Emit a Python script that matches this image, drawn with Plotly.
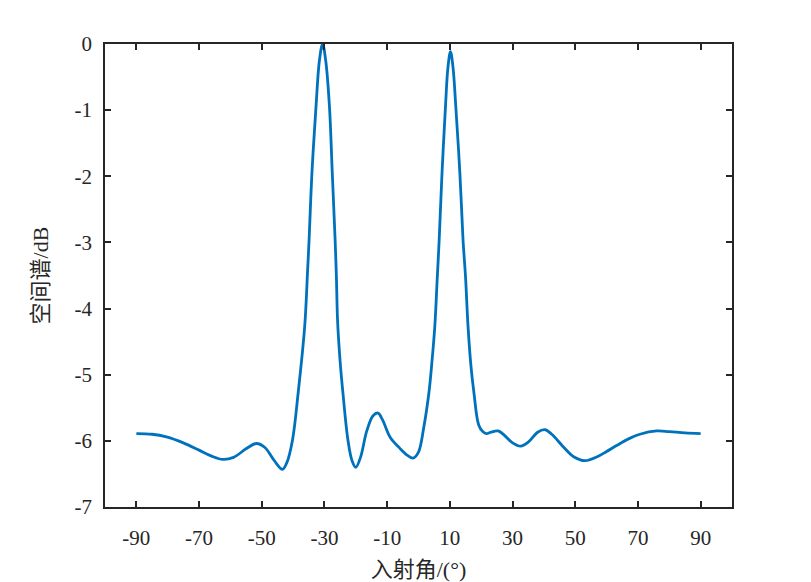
import plotly.graph_objects as go

# incident angle (deg) and spatial spectrum (dB)
angle_deg = [-90, -85, -80.4, -75, -70, -66, -62.4, -59, -55, -51.7, -49, -46, -43.4, -42, -40.2,
             -38.4, -36.3, -35.4, -34.9, -34.0, -32.7, -31.6, -30.6, -29.6, -28.4, -27.5, -26.6,
             -26.2, -25.8, -25.0, -24.1, -22.5, -21.2, -20.0, -18.5, -16.5, -14.5, -12.9, -11.5,
             -9, -6, -3.5, -1.7, 0, 1.7, 3.3, 4.3, 5.2, 6.0, 6.6, 7.5, 8.6, 9.4, 10.2, 11.0, 11.9,
             13.2, 14.2, 15.0, 15.8, 16.7, 17.7, 19.2, 20.5, 21.7, 23.0, 25.4, 27.5, 30, 32.6, 35,
             38, 40.3, 42.5, 46, 49.5, 53.1, 57, 60, 63.2, 67, 70.6, 76, 80, 85, 90]
spectrum_db = [-5.89, -5.90, -5.94, -6.03, -6.14, -6.23, -6.28, -6.25, -6.12, -6.04, -6.10, -6.30,
               -6.43, -6.33, -5.99, -5.28, -4.27, -3.45, -2.96, -1.955, -0.95, -0.25, 0.0, -0.25,
               -0.95, -1.955, -2.96, -3.5, -4.2, -4.8, -5.28, -5.99, -6.30, -6.40, -6.25, -5.85,
               -5.62, -5.58, -5.68, -5.95, -6.11, -6.22, -6.26, -6.17, -5.79, -5.28, -4.8, -4.27,
               -3.52, -2.96, -1.955, -0.95, -0.35, -0.116, -0.35, -0.95, -1.955, -2.96, -3.52,
               -4.27, -4.85, -5.28, -5.76, -5.86, -5.89, -5.87, -5.85, -5.92, -6.03, -6.08, -6.02,
               -5.87, -5.83, -5.90, -6.08, -6.24, -6.30, -6.24, -6.16, -6.07, -5.97, -5.90, -5.85,
               -5.86, -5.88, -5.89]

x_ticks = [-90, -70, -50, -30, -10, 10, 30, 50, 70, 90]
x_tick_text = ["-90", "-70", "-50", "-30", "-10", "10", "30", "50", "70", "90"]
y_ticks = [0, -1, -2, -3, -4, -5, -6, -7]
y_tick_text = ["0", "-1", "-2", "-3", "-4", "-5", "-6", "-7"]

FONT = "Liberation Serif, Times New Roman, Noto Sans CJK SC, serif"
AX = "#262626"

fig = go.Figure()
fig.add_trace(go.Scatter(
    x=angle_deg, y=spectrum_db, mode="lines",
    line=dict(color="#0072BD", width=2.8, shape="spline", smoothing=1.0),
    showlegend=False, cliponaxis=True,
))

axis_common = dict(
    showgrid=False, zeroline=False, showline=True, linecolor=AX, linewidth=1.6,
    mirror="ticks", ticks="inside", ticklen=6, tickwidth=1.6, tickcolor=AX,
    tickfont=dict(family=FONT, size=21, color=AX), automargin=False,
)

fig.update_xaxes(range=[-100, 100], tickvals=x_ticks, ticktext=x_tick_text,
                 title=dict(text="入射角/(°)", font=dict(family=FONT, size=22, color=AX), standoff=15),
                 ticklabelstandoff=11, **axis_common)
fig.update_yaxes(range=[-7, 0], tickvals=y_ticks, ticktext=y_tick_text,
                 title=dict(text="空间谱/dB", font=dict(family=FONT, size=22, color=AX), standoff=20),
                 ticklabelstandoff=7, **axis_common)

fig.update_layout(
    width=803, height=574,
    margin=dict(l=97, r=79, t=36, b=75),
    plot_bgcolor="white", paper_bgcolor="white",
)

fig.write_html("out.html")
